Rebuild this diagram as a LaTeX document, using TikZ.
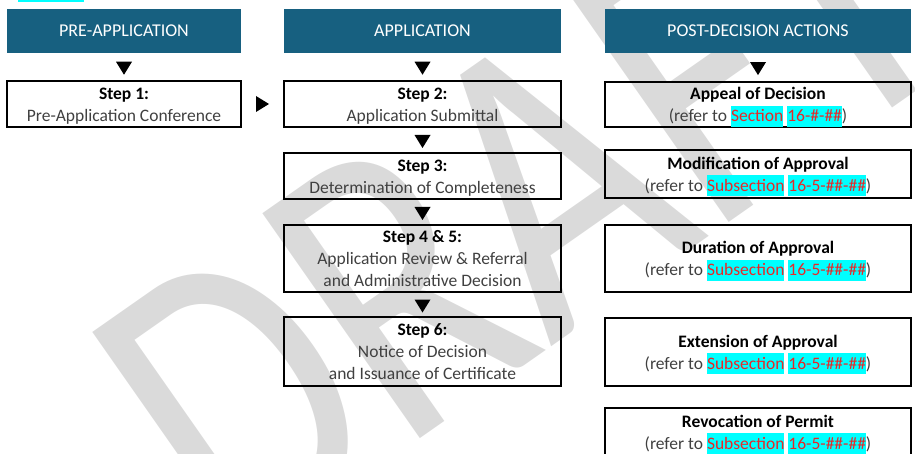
\documentclass[tikz,border=0pt]{standalone}
\usepackage{fontspec}
\setmainfont{Carlito}
\usepackage{tikz}
\definecolor{hdrblue}{RGB}{23,96,128}
\definecolor{bodygrey}{RGB}{64,64,64}
\definecolor{hlcyan}{RGB}{0,255,255}
\definecolor{refred}{RGB}{232,40,40}
\definecolor{wmgrey}{RGB}{218,218,218}
\tikzstyle{header} = [fill=hdrblue, text=white, font=\fontsize{18}{22}\selectfont, minimum height=44pt, inner sep=0pt]
\tikzstyle{stepbox} = [draw, line width=1.5pt, minimum width=277pt, minimum height=46pt, align=center, inner sep=0pt, text=bodygrey]
\tikzstyle{postbox} = [draw, line width=2pt, minimum width=306pt, align=center, inner sep=0pt, text=bodygrey]
\tikzstyle{wmark} = [text=wmgrey, font=\fontsize{337}{337}\selectfont, rotate=35, yscale=1.27, anchor=base west, inner sep=0pt]
\tikzset{downtri/.pic={\fill (-8,-5) -- (8,-5) -- (0,8) -- cycle;},
  righttri/.pic={\fill (-6.5,-8) -- (-6.5,8) -- (6.5,0) -- cycle;}}
\newcommand{\boxttl}[1]{\rule{0pt}{17.5pt}\textbf{\color{black}#1}}
\newcommand{\boxend}{\rule[-5pt]{0pt}{5pt}}
\newcommand{\refhl}[1]{{\setlength{\fboxsep}{0pt}\colorbox{hlcyan}{\rule[-5pt]{0pt}{21pt}\textcolor{refred}{#1}}}}

\begin{document}
\begin{tikzpicture}[x=1pt,y=-1pt,font=\fontsize{17.5}{22}\selectfont]
\useasboundingbox (0,0) rectangle (915,454);
% watermark behind everything
\node[wmark] (wm) at (231,571) {DRAFT};
\fill[hlcyan] (18,0) rectangle (84,2.5);

% column headers
\node[header, minimum width=234pt] (hpre) at (124,31) {PRE-APPLICATION};
\node[header, minimum width=277pt] (happ) at (422.5,31) {APPLICATION};
\node[header, minimum width=306pt] (hpost) at (758,31) {POST-DECISION ACTIONS};

% steps
\node[stepbox, minimum width=234pt] (s1) at (124,104) {\boxttl{Step 1:}\\Pre-Application Conference\boxend};
\node[stepbox] (s2) at (422.5,104) {\boxttl{Step 2:}\\Application Submittal\boxend};
\node[stepbox] (s3) at (422.5,176) {\boxttl{Step 3:}\\Determination of Completeness\boxend};
\node[stepbox, minimum height=67pt] (s45) at (422.5,258.5) {\boxttl{Step 4 \& 5:}\\Application Review \& Referral\\and Administrative Decision\boxend};
\node[stepbox, minimum height=69pt] (s6) at (422.5,351.5) {\boxttl{Step 6:}\\Notice of Decision\\and Issuance of Certificate\boxend};

% post-decision actions
\node[postbox, minimum height=45pt] (p1) at (758,104.5) {\boxttl{Appeal of Decision}\\(refer to \refhl{Section} \refhl{16-\#-\#\#})\boxend};
\node[postbox, minimum height=48pt] (p2) at (758,174) {\boxttl{Modification of Approval}\\(refer to \refhl{Subsection} \refhl{16-5-\#\#-\#\#})\boxend};
\node[postbox, minimum height=67pt] (p3) at (758,258.5) {\boxttl{Duration of Approval}\\(refer to \refhl{Subsection} \refhl{16-5-\#\#-\#\#})\boxend};
\node[postbox, minimum height=68pt] (p4) at (758,352) {\boxttl{Extension of Approval}\\(refer to \refhl{Subsection} \refhl{16-5-\#\#-\#\#})\boxend};
\node[postbox, minimum height=48pt] (p5) at (758,432) {\boxttl{Revocation of Permit}\\(refer to \refhl{Subsection} \refhl{16-5-\#\#-\#\#})\boxend};

% arrow heads between boxes
\path (hpre.south) -- (s1.north) coordinate[midway] (d1);
\path (happ.south) -- (s2.north) coordinate[midway] (d2);
\path (s2.south) -- (s3.north) coordinate[midway] (d3);
\path (s3.south) -- (s45.north) coordinate[midway] (d4);
\path (s45.south) -- (s6.north) coordinate[midway] (d5);
\path (hpost.south) -- (p1.north) coordinate[midway] (d6);
\path (s1.east) -- (s2.west) coordinate[midway] (r1);
\pic at (d1) {downtri};
\pic at (d2) {downtri};
\pic at (d3) {downtri};
\pic at (d4) {downtri};
\pic at (d5) {downtri};
\pic at (d6) {downtri};
\pic at (r1) {righttri};
\end{tikzpicture}
\end{document}
